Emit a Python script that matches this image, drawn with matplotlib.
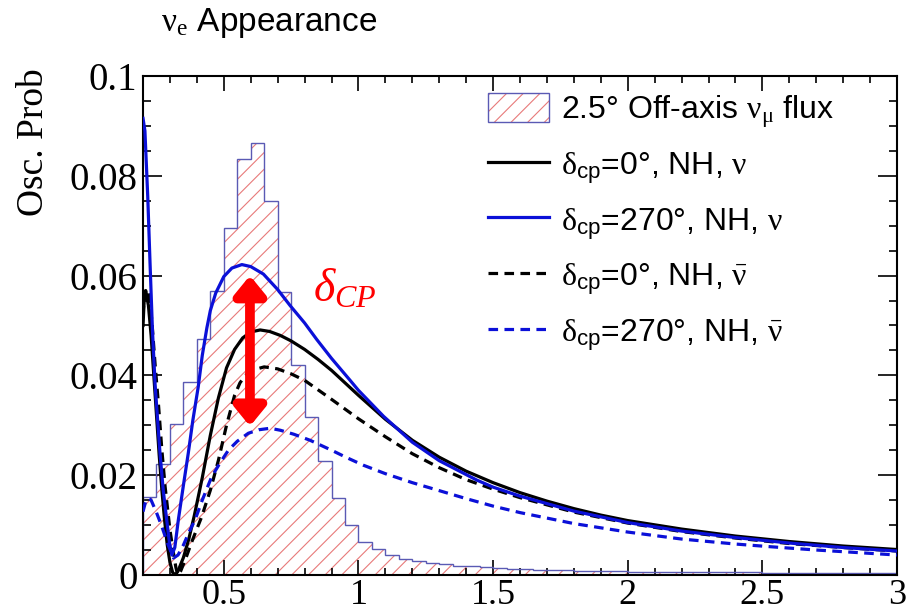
import numpy as np
import matplotlib
matplotlib.use("Agg")
import matplotlib.pyplot as plt
from matplotlib.patches import Patch
from matplotlib.lines import Line2D
from matplotlib.ticker import MultipleLocator

plt.rcParams['font.family'] = ['Liberation Sans', 'DejaVu Sans']
plt.rcParams['mathtext.fontset'] = 'custom'
plt.rcParams['mathtext.rm'] = 'Liberation Serif'
plt.rcParams['mathtext.it'] = 'Liberation Serif:italic'
plt.rcParams['mathtext.sf'] = 'Liberation Sans'
plt.rcParams['hatch.linewidth'] = 0.8

# flux histogram (scaled to prob axis), bins of 0.05 GeV from 0.2 to 3.0
flux_edges = np.round(np.arange(0.20, 3.0001, 0.05), 2)
flux_vals = [0.0157, 0.0222, 0.0302, 0.0387, 0.0473, 0.0569, 0.0695, 0.0833,
             0.0866, 0.0749, 0.0568, 0.0421, 0.0317, 0.0229, 0.0155, 0.0100,
             0.0067, 0.0052, 0.0041, 0.0033, 0.0028, 0.0024, 0.0021, 0.0018,
             0.0017, 0.0015, 0.0013, 0.0012, 0.0011, 0.0010, 0.0009, 0.0009,
             0.0008, 0.0008, 0.0007, 0.0007, 0.0006, 0.0006, 0.0006, 0.0006,
             0.0005, 0.0005, 0.0005, 0.0005, 0.0005, 0.0005, 0.0004, 0.0004,
             0.0004, 0.0004, 0.0004, 0.0004, 0.0004, 0.0004, 0.0004, 0.0004]

# dcp = 0, NH, nu
x_nu0 = [0.20, 0.205, 0.21, 0.22, 0.23, 0.24, 0.25, 0.26, 0.27, 0.28, 0.29, 0.30,
         0.31, 0.32, 0.33, 0.35, 0.37, 0.39, 0.42, 0.45, 0.48, 0.51, 0.54, 0.57,
         0.60, 0.635, 0.67, 0.71, 0.75, 0.80, 0.85, 0.90, 0.96, 1.0, 1.1, 1.2,
         1.3, 1.4, 1.5, 1.6, 1.7, 1.8, 1.9, 2.0, 2.2, 2.4, 2.6, 2.8, 3.0]
p_nu0 = [0.050, 0.056, 0.057, 0.054, 0.048, 0.040, 0.032, 0.024, 0.017, 0.011,
         0.006, 0.0025, 0.0005, 0.0, 0.0008, 0.0035, 0.0072, 0.0118, 0.0195,
         0.0280, 0.0355, 0.0415, 0.0452, 0.0475, 0.0487, 0.0491, 0.0488, 0.0480,
         0.0469, 0.0452, 0.0432, 0.0410, 0.0380, 0.0360, 0.0312, 0.0270, 0.0236,
         0.0208, 0.0185, 0.0165, 0.0148, 0.0133, 0.0120, 0.0109, 0.0092, 0.0078,
         0.0067, 0.0058, 0.0051]

# dcp = 270, NH, nu
x_nu270 = [0.20, 0.207, 0.2175, 0.226, 0.235, 0.245, 0.263, 0.275, 0.288, 0.298,
           0.307, 0.318, 0.331, 0.35, 0.368, 0.385, 0.405, 0.42, 0.437, 0.45,
           0.47, 0.50, 0.53, 0.567, 0.60, 0.647, 0.70, 0.746, 0.80, 0.845, 0.90,
           0.969, 1.0, 1.093, 1.2, 1.3, 1.44, 1.5, 1.6, 1.8, 2.0, 2.2, 2.4, 2.6,
           2.8, 3.0]
p_nu270 = [0.0915, 0.089, 0.0758, 0.0625, 0.049, 0.038, 0.0244, 0.017, 0.011,
           0.0065, 0.004, 0.0055, 0.011, 0.018, 0.0244, 0.031, 0.0377, 0.0440,
           0.0495, 0.0530, 0.0565, 0.0598, 0.0615, 0.0622, 0.0618, 0.0603, 0.0572,
           0.0540, 0.0505, 0.0472, 0.0434, 0.0390, 0.0370, 0.0318, 0.0266, 0.0229,
           0.0190, 0.0176, 0.0158, 0.0128, 0.0105, 0.0088, 0.0075, 0.0064, 0.0055,
           0.0048]

# dcp = 0, NH, nubar
x_nb0 = [0.20, 0.205, 0.21, 0.22, 0.2325, 0.245, 0.257, 0.27, 0.282, 0.30, 0.313,
         0.322, 0.329, 0.34, 0.36, 0.38, 0.418, 0.45, 0.48, 0.51, 0.54, 0.56,
         0.58, 0.61, 0.65, 0.70, 0.75, 0.80, 0.90, 1.0, 1.1, 1.2, 1.3, 1.4, 1.5,
         1.6, 1.8, 2.0, 2.2, 2.4, 2.6, 2.8, 3.0]
p_nb0 = [0.052, 0.0565, 0.0572, 0.057, 0.0511, 0.042, 0.0344, 0.025, 0.0177,
         0.0090, 0.0044, 0.0015, 0.0, 0.0008, 0.0035, 0.0065, 0.0117, 0.0170,
         0.0230, 0.0300, 0.0360, 0.0385, 0.0400, 0.0411, 0.0417, 0.0413, 0.0403,
         0.0390, 0.0352, 0.0313, 0.0277, 0.0243, 0.0215, 0.0191, 0.0172, 0.0155,
         0.0126, 0.0104, 0.0087, 0.0074, 0.0063, 0.0055, 0.0048]

# dcp = 270, NH, nubar
x_nb270 = [0.20, 0.21, 0.22, 0.23, 0.25, 0.27, 0.29, 0.313, 0.33, 0.35, 0.37,
           0.393, 0.42, 0.455, 0.49, 0.517, 0.55, 0.591, 0.63, 0.672, 0.71, 0.76,
           0.82, 0.90, 0.957, 1.018, 1.1, 1.2, 1.3, 1.4, 1.5, 1.6, 1.8, 2.0, 2.2,
           2.4, 2.52, 2.7, 2.85, 3.0]
p_nb270 = [0.0127, 0.0148, 0.0154, 0.0150, 0.0125, 0.0097, 0.0065, 0.0034, 0.0040,
           0.0060, 0.0085, 0.0110, 0.0150, 0.0197, 0.0228, 0.0250, 0.0268, 0.0284,
           0.0291, 0.0294, 0.0290, 0.0282, 0.0270, 0.0250, 0.0235, 0.0220, 0.0203,
           0.0185, 0.0169, 0.0153, 0.0138, 0.0125, 0.0103, 0.0086, 0.0072,
           0.0062, 0.0057, 0.0050, 0.0045, 0.0040]

hatch_red = '#e87a7a'
edge_blue = '#5a5ab4'
blue = '#0b10d8'

fig = plt.figure(figsize=(9.07, 6.16), dpi=100)
ax = fig.add_axes([0.1577, 0.0666, 0.8313, 0.8101])

ax.stairs(flux_vals, flux_edges, fill=True, facecolor='none', edgecolor=hatch_red,
          hatch='//', linewidth=0, zorder=1)
ax.stairs(flux_vals, flux_edges, color=edge_blue, linewidth=1.0, zorder=2)

ax.plot(x_nu0, p_nu0, color='black', lw=2.3, zorder=4)
ax.plot(x_nu270, p_nu270, color=blue, lw=2.3, zorder=5)
ax.plot(x_nb0, p_nb0, color='black', lw=2.3, ls=(0, (3, 2)), zorder=4)
ax.plot(x_nb270, p_nb270, color=blue, lw=2.3, ls=(0, (3, 2)), zorder=4)

ax.annotate('', xy=(0.597, 0.0600), xytext=(0.597, 0.0298),
            arrowprops=dict(arrowstyle='<|-|>,head_width=0.45,head_length=0.55',
                            lw=7, color='red', shrinkA=0, shrinkB=0,
                            mutation_scale=20), zorder=6)
ax.text(0.83, 0.057, r'$\delta_{CP}$', color='red', fontsize=33, va='center',
        ha='left', family='Liberation Serif')

ax.set_xlim(0.2, 3.0)
ax.set_ylim(0, 0.1)
ax.xaxis.set_major_locator(MultipleLocator(0.5))
ax.xaxis.set_minor_locator(MultipleLocator(0.1))
ax.yaxis.set_major_locator(MultipleLocator(0.02))
ax.yaxis.set_minor_locator(MultipleLocator(0.005))
ax.xaxis.set_major_formatter(plt.FuncFormatter(lambda v, p: f'{v:g}'))
ax.yaxis.set_major_formatter(plt.FuncFormatter(lambda v, p: f'{v:g}'))
ax.tick_params(which='both', direction='in', top=True, right=True, width=1.2)
ax.tick_params(axis='x', which='major', length=11, pad=3)
ax.tick_params(axis='x', which='minor', length=5)
ax.tick_params(axis='y', which='major', length=14, pad=4)
ax.tick_params(axis='y', which='minor', length=6)
for lab in ax.get_xticklabels():
    lab.set_fontfamily('Liberation Serif')
    lab.set_fontsize(26)
for lab in ax.get_yticklabels():
    lab.set_fontfamily('Liberation Serif')
    lab.set_fontsize(28)
for sp in ax.spines.values():
    sp.set_linewidth(1.5)

fig.text(0.037, 0.769, 'Osc. Prob', rotation=90, fontsize=27,
         family='Liberation Serif', ha='center', va='center')
fig.text(0.178, 0.963, r'$\mathrm{\nu}_{\mathrm{e}}$ Appearance', fontsize=24,
         ha='left', va='center')

handles = [(Patch(facecolor='none', edgecolor=hatch_red, hatch='//', lw=0),
            Patch(facecolor='none', edgecolor=edge_blue, lw=1.0)),
           Line2D([], [], color='black', lw=2.3),
           Line2D([], [], color=blue, lw=2.3),
           Line2D([], [], color='black', lw=2.3, ls=(0, (3, 2))),
           Line2D([], [], color=blue, lw=2.3, ls=(0, (3, 2)))]
labels = [r'2.5° Off-axis $\mathrm{\nu}_{\mathrm{\mu}}$ flux',
          r'$\mathrm{\delta}_{\mathsf{cp}}$=0°, NH, $\mathrm{\nu}$',
          r'$\mathrm{\delta}_{\mathsf{cp}}$=270°, NH, $\mathrm{\nu}$',
          r'$\mathrm{\delta}_{\mathsf{cp}}$=0°, NH, $\mathrm{\bar{\nu}}$',
          r'$\mathrm{\delta}_{\mathsf{cp}}$=270°, NH, $\mathrm{\bar{\nu}}$']
fig.legend(handles, labels, loc='upper left', bbox_to_anchor=(0.538, 0.849),
           frameon=False, fontsize=23, handlelength=1.9, handleheight=1.0,
           labelspacing=0.6, handletextpad=0.4, borderaxespad=0, borderpad=0)

fig.savefig('out.png', dpi=100)
